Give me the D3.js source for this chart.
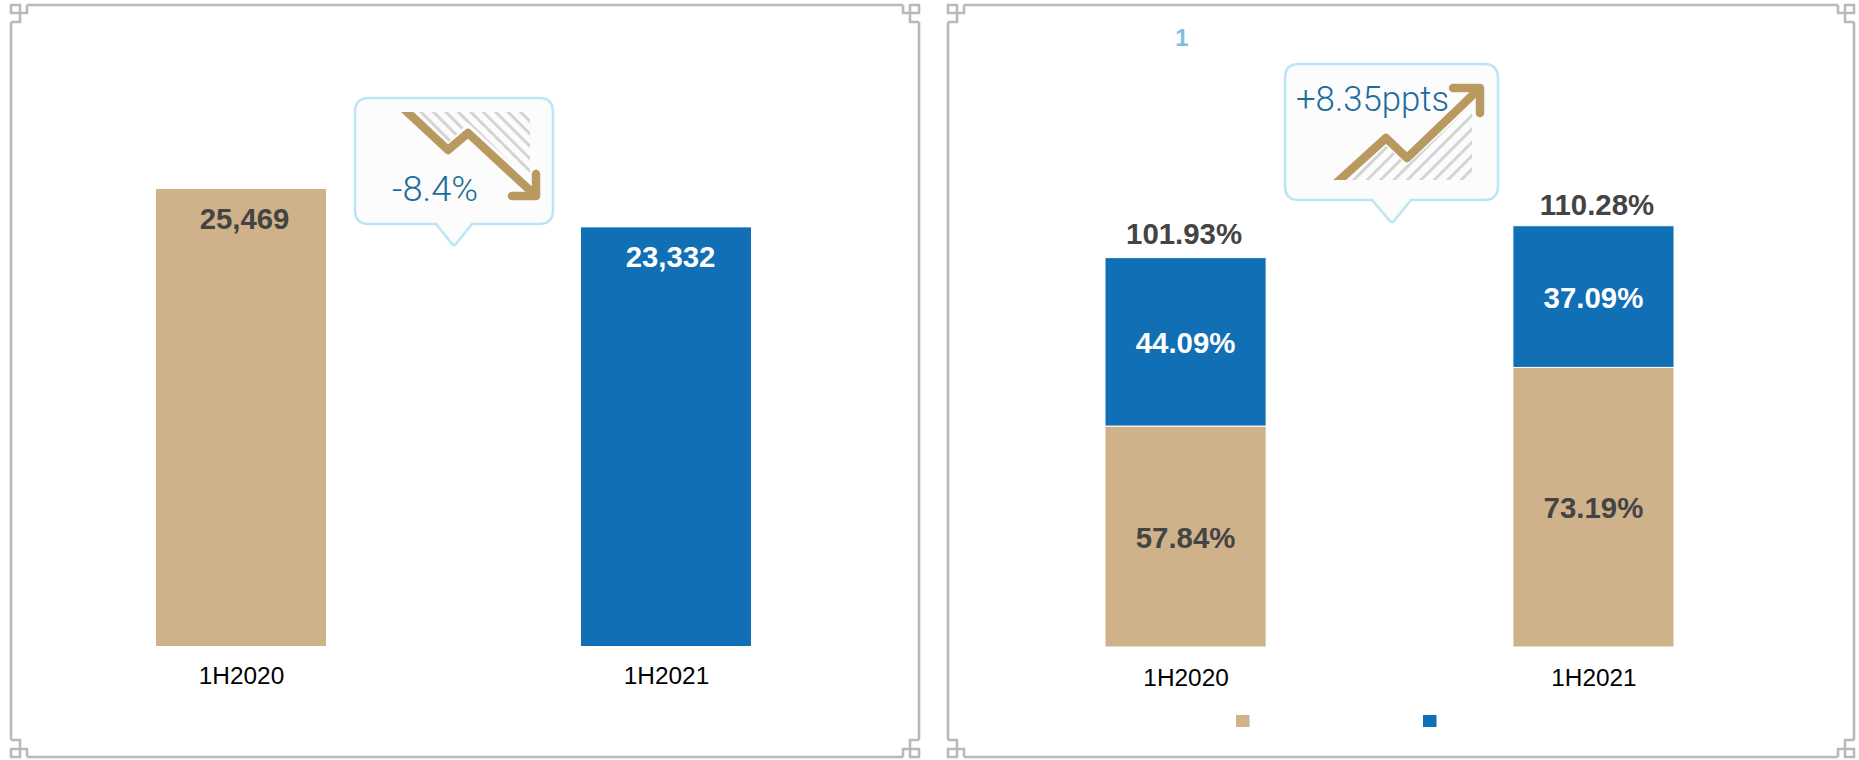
<!DOCTYPE html>
<html><head><meta charset="utf-8">
<script src="https://cdn.jsdelivr.net/npm/d3@7"></script>
<style>html,body{margin:0;padding:0;background:#fff;overflow:hidden}svg{display:block}text{font-family:"Liberation Sans",Arial,sans-serif}</style>
</head><body><svg id="c" width="1859" height="760"></svg>
<script>
const leftCategories=["1H2020","1H2021"];
const leftValues=[25469,23332];
const rightCategories=["1H2020","1H2021"];
const lowerSeries=[57.84,73.19];
const upperSeries=[44.09,37.09];
const totals=[101.93,110.28];
const tan="#CFB28A",blue="#116FB5",gold="#B89A60",ink="#444444";
const leftColors=[tan,blue];
const svg=d3.select("#c");
const defs=svg.append("defs");

function frame(x0,y0,x1,y1){
  const g=svg.append("g").attr("fill","none").attr("stroke","#b9b9b9").attr("stroke-width",2.6);
  const seg=(a,b,c,d)=>g.append("line").attr("x1",a).attr("y1",b).attr("x2",c).attr("y2",d);
  seg(x0+16,y0,x1-16,y0);seg(x0+16,y1,x1-16,y1);
  seg(x0,y0+17,x0,y1-17);seg(x1,y0+17,x1,y1-17);
  const c=(cx,cy,sx,sy)=>{
    const p=d3.path();
    p.moveTo(cx,cy+sy*17);p.lineTo(cx+sx*9,cy+sy*17);p.lineTo(cx+sx*9,cy);p.lineTo(cx,cy);p.lineTo(cx,cy+sy*8);p.lineTo(cx+sx*16,cy+sy*8);p.lineTo(cx+sx*16,cy);
    g.append("path").attr("d",p.toString());
  };
  c(x0,y0,1,1);c(x1,y0,-1,1);c(x0,y1,1,-1);c(x1,y1,-1,-1);
}
frame(11,5,919,757);
frame(948,5,1854,757);

defs.append("pattern").attr("id","hd").attr("patternUnits","userSpaceOnUse").attr("width",8.8).attr("height",8.8)
  .attr("patternTransform","rotate(45)").append("rect").attr("width",8.8).attr("height",3).attr("fill","#d4d4d4");
defs.append("pattern").attr("id","hu").attr("patternUnits","userSpaceOnUse").attr("width",9.5).attr("height",9.5)
  .attr("patternTransform","rotate(-45)").append("rect").attr("width",9.5).attr("height",3).attr("fill","#d4d4d4");

function callout(x0,y0,x1,y1,tl,tx,tr,ty){
  const r=14,p=d3.path();
  p.moveTo(x0+r,y0);p.lineTo(x1-r,y0);p.quadraticCurveTo(x1,y0,x1,y0+r);p.lineTo(x1,y1-r);p.quadraticCurveTo(x1,y1,x1-r,y1);
  p.lineTo(tr,y1);p.lineTo(tx+2,ty-1);p.quadraticCurveTo(tx,ty+1,tx-2,ty-1);p.lineTo(tl,y1);p.lineTo(x0+r,y1);
  p.quadraticCurveTo(x0,y1,x0,y1-r);p.lineTo(x0,y0+r);p.quadraticCurveTo(x0,y0,x0+r,y0);p.closePath();
  svg.append("path").attr("d",p.toString()).attr("fill","#fcfcfc").attr("stroke","#BCE6F6").attr("stroke-width",2.6);
}
const calloutText=(x,y,t,len)=>svg.append("text").attr("x",x).attr("y",y).attr("font-size",35).attr("fill","#1B6C9C")
  .attr("font-weight",300).attr("textLength",len).attr("lengthAdjust","spacingAndGlyphs").style("font-family","Roboto,Lato,sans-serif").text(t);

// ---- Left panel ----
const lx=d3.scaleBand().domain(leftCategories).range([156,751]).paddingInner(0.6).paddingOuter(0);
const ly=d3.scaleLinear().domain([0,25469]).range([646,189]);
const leftLabelNudge=[3.5,4.5];
svg.append("g").selectAll("rect").data(leftValues).join("rect")
  .attr("x",(d,i)=>lx(leftCategories[i])).attr("width",lx.bandwidth())
  .attr("y",d=>ly(d)).attr("height",d=>ly(0)-ly(d)).attr("fill",(d,i)=>leftColors[i]);
svg.append("g").selectAll("text").data(leftValues).join("text")
  .attr("x",(d,i)=>lx(leftCategories[i])+lx.bandwidth()/2+leftLabelNudge[i]).attr("y",d=>ly(d)+39.5)
  .attr("text-anchor","middle").attr("font-size",29.3).attr("font-weight",700)
  .attr("fill",(d,i)=>i?"#fff":ink).text(d=>d3.format(",")(d));
svg.append("g").selectAll("text").data(leftCategories).join("text")
  .attr("x",d=>lx(d)+lx.bandwidth()/2+0.5).attr("y",683.5).attr("text-anchor","middle").attr("font-size",24.4).attr("fill","#000").text(d=>d);

callout(355,98,553,224,436,454,472,245);
svg.append("path").attr("d","M413,112 H530 V180 L468,123 L448,143 Z").attr("fill","url(#hd)");
defs.append("clipPath").attr("id","cl").append("rect").attr("x",400).attr("y",112).attr("width",150).attr("height",100);
svg.append("path").attr("d","M403,108 L448,150 L468,133 L535,195").attr("fill","none").attr("stroke",gold).attr("stroke-width",8.5).attr("stroke-linejoin","round").attr("clip-path","url(#cl)");
svg.append("path").attr("d","M536,174 V196 H512").attr("fill","none").attr("stroke",gold).attr("stroke-width",8.5).attr("stroke-linejoin","round").attr("stroke-linecap","round");
calloutText(392,201,"-8.4%",86);

// ---- Right panel ----
const rx=d3.scaleBand().domain(rightCategories).range([1105,1674]).paddingInner(0.605).paddingOuter(0);
const bw=rx.bandwidth(), rxc=(d,i)=>rx(rightCategories[i]);
const ry=d3.scaleLinear().domain([0,100]).range([647,265]);
const totalNudge=[-1.5,3.5];
const lowG=svg.append("g");
lowG.selectAll("rect.l").data(lowerSeries).join("rect").attr("class","l")
  .attr("x",rxc).attr("width",bw).attr("y",d=>ry(d)).attr("height",d=>ry(0)-ry(d)).attr("fill",tan).attr("stroke","#fff").attr("stroke-width",1);
lowG.selectAll("rect.u").data(upperSeries).join("rect").attr("class","u")
  .attr("x",rxc).attr("width",bw).attr("y",(d,i)=>ry(d+lowerSeries[i])).attr("height",d=>ry(0)-ry(d)).attr("fill",blue).attr("stroke","#fff").attr("stroke-width",1);
const lab=svg.append("g").attr("text-anchor","middle").attr("font-size",29.4).attr("font-weight",700);
lab.selectAll("text.l").data(lowerSeries).join("text").attr("class","l")
  .attr("x",(d,i)=>rxc(d,i)+bw/2).attr("y",d=>ry(d/2)+11).attr("fill",ink).text(d=>d3.format(".2f")(d)+"%");
lab.selectAll("text.u").data(upperSeries).join("text").attr("class","u")
  .attr("x",(d,i)=>rxc(d,i)+bw/2).attr("y",(d,i)=>ry(lowerSeries[i]+d/2)+11).attr("fill","#fff").text(d=>d3.format(".2f")(d)+"%");
lab.selectAll("text.t").data(totals).join("text").attr("class","t")
  .attr("x",(d,i)=>rxc(d,i)+bw/2+totalNudge[i]).attr("y",(d,i)=>ry(lowerSeries[i]+upperSeries[i])-[14,11][i]).attr("fill",ink).text(d=>d3.format(".2f")(d)+"%");
svg.append("g").selectAll("text").data(rightCategories).join("text")
  .attr("x",(d,i)=>rxc(d,i)+bw/2+0.5).attr("y",686).attr("text-anchor","middle").attr("font-size",24.4).attr("fill","#000").text(d=>d);
svg.append("g").selectAll("rect").data([tan,blue]).join("rect")
  .attr("x",(d,i)=>[1236,1423][i]).attr("y",715).attr("width",13.5).attr("height",12).attr("fill",d=>d);
svg.append("text").attr("x",1182).attr("y",46).attr("text-anchor","middle").attr("font-size",24).attr("font-weight",700).attr("fill","#7FBFDD").text("1");

callout(1285,64,1498,200,1372,1392,1411,222);
svg.append("path").attr("d","M1345,180 L1385,145 L1407,165 L1472,105 V180 Z").attr("fill","url(#hu)");
defs.append("clipPath").attr("id","cr").append("rect").attr("x",1330).attr("y",80).attr("width",160).attr("height",100);
svg.append("path").attr("d","M1333,186 L1386,138 L1407,158 L1479,89").attr("fill","none").attr("stroke",gold).attr("stroke-width",8.5).attr("stroke-linejoin","round").attr("clip-path","url(#cr)");
svg.append("path").attr("d","M1453,88 H1480 V113").attr("fill","none").attr("stroke",gold).attr("stroke-width",8.5).attr("stroke-linejoin","round").attr("stroke-linecap","round");
calloutText(1296,111,"+8.35ppts",153);
</script></body></html>
